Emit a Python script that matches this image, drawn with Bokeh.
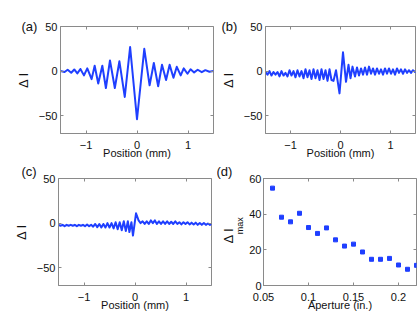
from bokeh.plotting import figure
from bokeh.layouts import column, row
from bokeh.models import Range1d, FixedTicker, LinearAxis
from bokeh.embed import file_html
from bokeh.resources import INLINE

# ---------------- data ----------------
# (a) trace: position (mm) vs delta I (extrema)
pos_a = [-1.50, -1.42, -1.36, -1.29, -1.23, -1.17, -1.11, -1.04, -0.975, -0.89,
         -0.83, -0.76, -0.68, -0.61, -0.53, -0.435, -0.345, -0.24, -0.135, 0.0,
         0.143, 0.247, 0.33, 0.415, 0.49, 0.57, 0.64, 0.715, 0.78, 0.857,
         0.916, 0.99, 1.05, 1.12, 1.19, 1.27, 1.34, 1.42, 1.50]
di_a = [0, -1, 1.5, -1.9, 1.8, -2.6, 2.4, -4.8, 3, -9,
        6, -14, 6, -19, 12, -19, 11, -29, 27, -54,
        25, -16, 9, -17, 7, -10, 7, -7.5, 4.8, -4.8,
        3, -3, 2, -1.5, 1.5, -1.2, 1, -0.8, 0]

# (b) trace
pos_b = [-1.50, -1.46, -1.42, -1.38, -1.34, -1.30, -1.26, -1.22, -1.18, -1.14,
         -1.10, -1.06, -1.02, -0.98, -0.94, -0.90, -0.86, -0.82, -0.78, -0.74,
         -0.70, -0.66, -0.62, -0.58, -0.54, -0.50, -0.46, -0.42, -0.38, -0.34,
         -0.30, -0.26, -0.22, -0.18, -0.14, -0.09, -0.02, 0.05, 0.11, 0.16,
         0.20, 0.24, 0.29, 0.33, 0.37, 0.41, 0.45, 0.49, 0.53, 0.57,
         0.61, 0.65, 0.69, 0.73, 0.77, 0.81, 0.85, 0.89, 0.93, 0.97,
         1.01, 1.05, 1.09, 1.13, 1.17, 1.21, 1.25, 1.29, 1.33, 1.37,
         1.41, 1.45, 1.49, 1.50]
di_b = [-1, -4, 0, -5, -1, -4, -1, -6, 0, -5,
        -2, -6, 1, -5, 0, -7, 1, -6, 0, -8,
        2, -7, 1, -9, 2, -8, 1, -10, 2, -9,
        1, -11, 2, -10, -11, 1, -25, 21, -12, 7,
        -8, 5, -6, 4, -5, 3, -4, 4, -4, 5,
        -3, 3, -4, 3, -3, 2, -4, 3, -3, 3,
        -3, 2, -4, 3, -2, 2, -3, 2, -2, 1,
        -2, 1, -1, 0]

# (c) trace
pos_c = [-1.50, -1.46, -1.42, -1.38, -1.34, -1.30, -1.26, -1.22, -1.18, -1.14,
         -1.10, -1.06, -1.02, -0.98, -0.94, -0.90, -0.86, -0.82, -0.78, -0.74,
         -0.70, -0.66, -0.62, -0.58, -0.54, -0.50, -0.46, -0.42, -0.38, -0.34,
         -0.30, -0.26, -0.22, -0.18, -0.14, -0.11, -0.07, -0.04, 0.02, 0.07,
         0.11, 0.15, 0.19, 0.23, 0.27, 0.31, 0.35, 0.39, 0.43, 0.47,
         0.51, 0.55, 0.59, 0.63, 0.67, 0.71, 0.75, 0.79, 0.83, 0.87,
         0.91, 0.95, 0.99, 1.03, 1.07, 1.11, 1.15, 1.19, 1.23, 1.27,
         1.31, 1.35, 1.39, 1.43, 1.47, 1.50]
di_c = [-2, -3, -2, -3.5, -2, -3, -2, -3, -2, -3.5,
        -2, -3, -2, -3.5, -1.5, -3.5, -2, -4, -1, -4.5,
        -1, -5, -1, -5, 0, -5, 0, -6, 1, -7,
        1, -8, 2, -9, 2, -10, 1, -14, 11, 3,
        0, 2, -1, 2, -1, 3, 0, 3, -1, 2,
        -1, 2, -1, 2, -1, 1.5, -1, 2, -1, 1,
        -1.5, 1, -1, 1, -1.5, 0.5, -1.5, 0.5, -2, 0,
        -2, 0, -2, -0.5, -2, -1]

# (d) maximum delta I vs aperture
aperture = [0.06, 0.07, 0.08, 0.09, 0.10, 0.11, 0.12, 0.13, 0.14, 0.15,
            0.16, 0.17, 0.18, 0.19, 0.20, 0.21, 0.22]
di_max = [54.6, 38.3, 35.7, 40.5, 32.5, 29.2, 32.3, 25.6, 22.1, 23.2,
          18.8, 14.7, 14.7, 15.2, 11.5, 9.1, 11.3]

pos_ticks = [-1, 0, 1]
pos_tick_labels = ["\u22121", "0", "1"]
di_ticks = [-50, 0, 50]
di_tick_labels = ["\u221250", "0", "50"]
ap_ticks = [0.05, 0.1, 0.15, 0.2]
ap_tick_labels = ["0.05", "0.1", "0.15", "0.2"]
dmax_ticks = [0, 20, 40, 60]
dmax_tick_labels = ["0", "20", "40", "60"]

# ---------------- style ----------------
BLUE = "#1f3fff"
FRAME = "#8a8a8a"
FONT = "Liberation Sans"
TICK_FS = "11px"
LAB_FS = "11px"
TXT = "#111111"
NB = "\u00a0"


def style_axis(ax, ticks, labels, label):
    ax.ticker = FixedTicker(ticks=ticks)
    ax.major_label_overrides = dict(zip(ticks, labels))
    ax.axis_line_color = FRAME
    ax.major_tick_line_color = FRAME
    ax.major_tick_in = 3
    ax.major_tick_out = 0
    ax.minor_tick_line_color = None
    ax.major_label_text_font = FONT
    ax.major_label_text_font_size = TICK_FS
    ax.major_label_text_color = TXT
    ax.major_label_standoff = 3
    if label is not None:
        ax.axis_label = label
        ax.axis_label_text_font = FONT
        ax.axis_label_text_font_style = "normal"
        ax.axis_label_text_color = TXT


def tick_only_axis(ticks):
    ax = LinearAxis(ticker=FixedTicker(ticks=ticks))
    ax.axis_line_color = None
    ax.major_tick_line_color = FRAME
    ax.major_tick_in = 3
    ax.major_tick_out = 0
    ax.minor_tick_line_color = None
    ax.major_label_overrides = {v: "" for v in ticks}
    ax.major_label_text_color = None
    ax.major_label_text_font_size = "0px"
    ax.major_label_standoff = 0
    return ax


def make_panel(width, height, mbl, mbr, mbt, mbb, xr, yr, xt, xtl, yt, ytl,
               xlabel, ylabel, tag, tag_offset, tag_standoff):
    p = figure(width=width, height=height, x_range=Range1d(*xr), y_range=Range1d(*yr),
               output_backend="svg", toolbar_location=None,
               min_border_left=mbl, min_border_right=mbr,
               min_border_top=mbt, min_border_bottom=mbb)
    p.grid.visible = False
    p.outline_line_color = FRAME
    style_axis(p.xaxis[0], xt, xtl, xlabel)
    p.xaxis[0].axis_label_text_font_size = LAB_FS
    p.xaxis[0].axis_label_standoff = -5
    p.xaxis[0].major_label_standoff = 7
    style_axis(p.yaxis[0], yt, ytl, ylabel)
    if ylabel is not None:
        p.yaxis[0].axis_label_text_font_size = "13px"
        p.yaxis[0].axis_label_standoff = 5
    p.add_layout(tick_only_axis(xt), "above")
    p.add_layout(tick_only_axis(yt), "right")
    p.title.text = tag
    p.title.align = "left"
    p.title.offset = tag_offset
    p.title.standoff = tag_standoff
    p.title.text_font = FONT
    p.title.text_font_size = "13px"
    p.title.text_font_style = "normal"
    p.title.text_color = TXT
    return p


pa = make_panel(217, 161, 60, 4, 26, 27, (-1.5, 1.5), (-70, 50),
                pos_ticks, pos_tick_labels, di_ticks, di_tick_labels,
                "Position (mm)", "\u0394 I", "(a)", -39, -15)
pa.line(pos_a, di_a, line_color=BLUE, line_width=2, line_join="round")

pb = make_panel(202, 161, 45, 4, 26, 27, (-1.5, 1.5), (-70, 50),
                pos_ticks, pos_tick_labels, di_ticks, di_tick_labels,
                "Position (mm)", "\u0394 I", "(b)", -44, -15)
pb.line(pos_b, di_b, line_color=BLUE, line_width=2, line_join="round")

pc = make_panel(217, 152, 58, 6, 17, 27, (-1.5, 1.5), (-70, 50),
                pos_ticks, pos_tick_labels, di_ticks, di_tick_labels,
                "Position (mm)", "\u0394 I", "(c)", -37, 0)
pc.line(pos_c, di_c, line_color=BLUE, line_width=2, line_join="round")

pd_ = make_panel(202, 152, 46, 3, 17, 27, (0.05, 0.22), (0, 60),
                 ap_ticks, ap_tick_labels, dmax_ticks, dmax_tick_labels,
                 "Aperture (in.)", NB * 5 + "max", "(d)", -47, 0)
pd_.scatter(aperture, di_max, marker="square", size=4, fill_color=BLUE, line_color=BLUE)
pd_.yaxis[0].major_label_standoff = 2
pd_.yaxis[0].axis_label_text_font_size = "9px"
pd_.yaxis[0].axis_label_standoff = 1
# outer left axis that only carries the "Δ I" part of the label
dlab = LinearAxis(ticker=FixedTicker(ticks=dmax_ticks))
dlab.axis_line_color = None
dlab.major_tick_line_color = None
dlab.minor_tick_line_color = None
dlab.major_label_overrides = {v: "" for v in dmax_ticks}
dlab.major_label_text_color = None
dlab.major_label_text_font_size = "0px"
dlab.major_label_standoff = 0
dlab.axis_label = "\u0394 I" + NB * 2
dlab.axis_label_text_font = FONT
dlab.axis_label_text_font_size = "13px"
dlab.axis_label_text_font_style = "normal"
dlab.axis_label_text_color = TXT
dlab.axis_label_standoff = -9
pd_.add_layout(dlab, "left")

layout = column(row(pa, pb), row(pc, pd_))
open("out.html", "w").write(file_html(layout, INLINE))
